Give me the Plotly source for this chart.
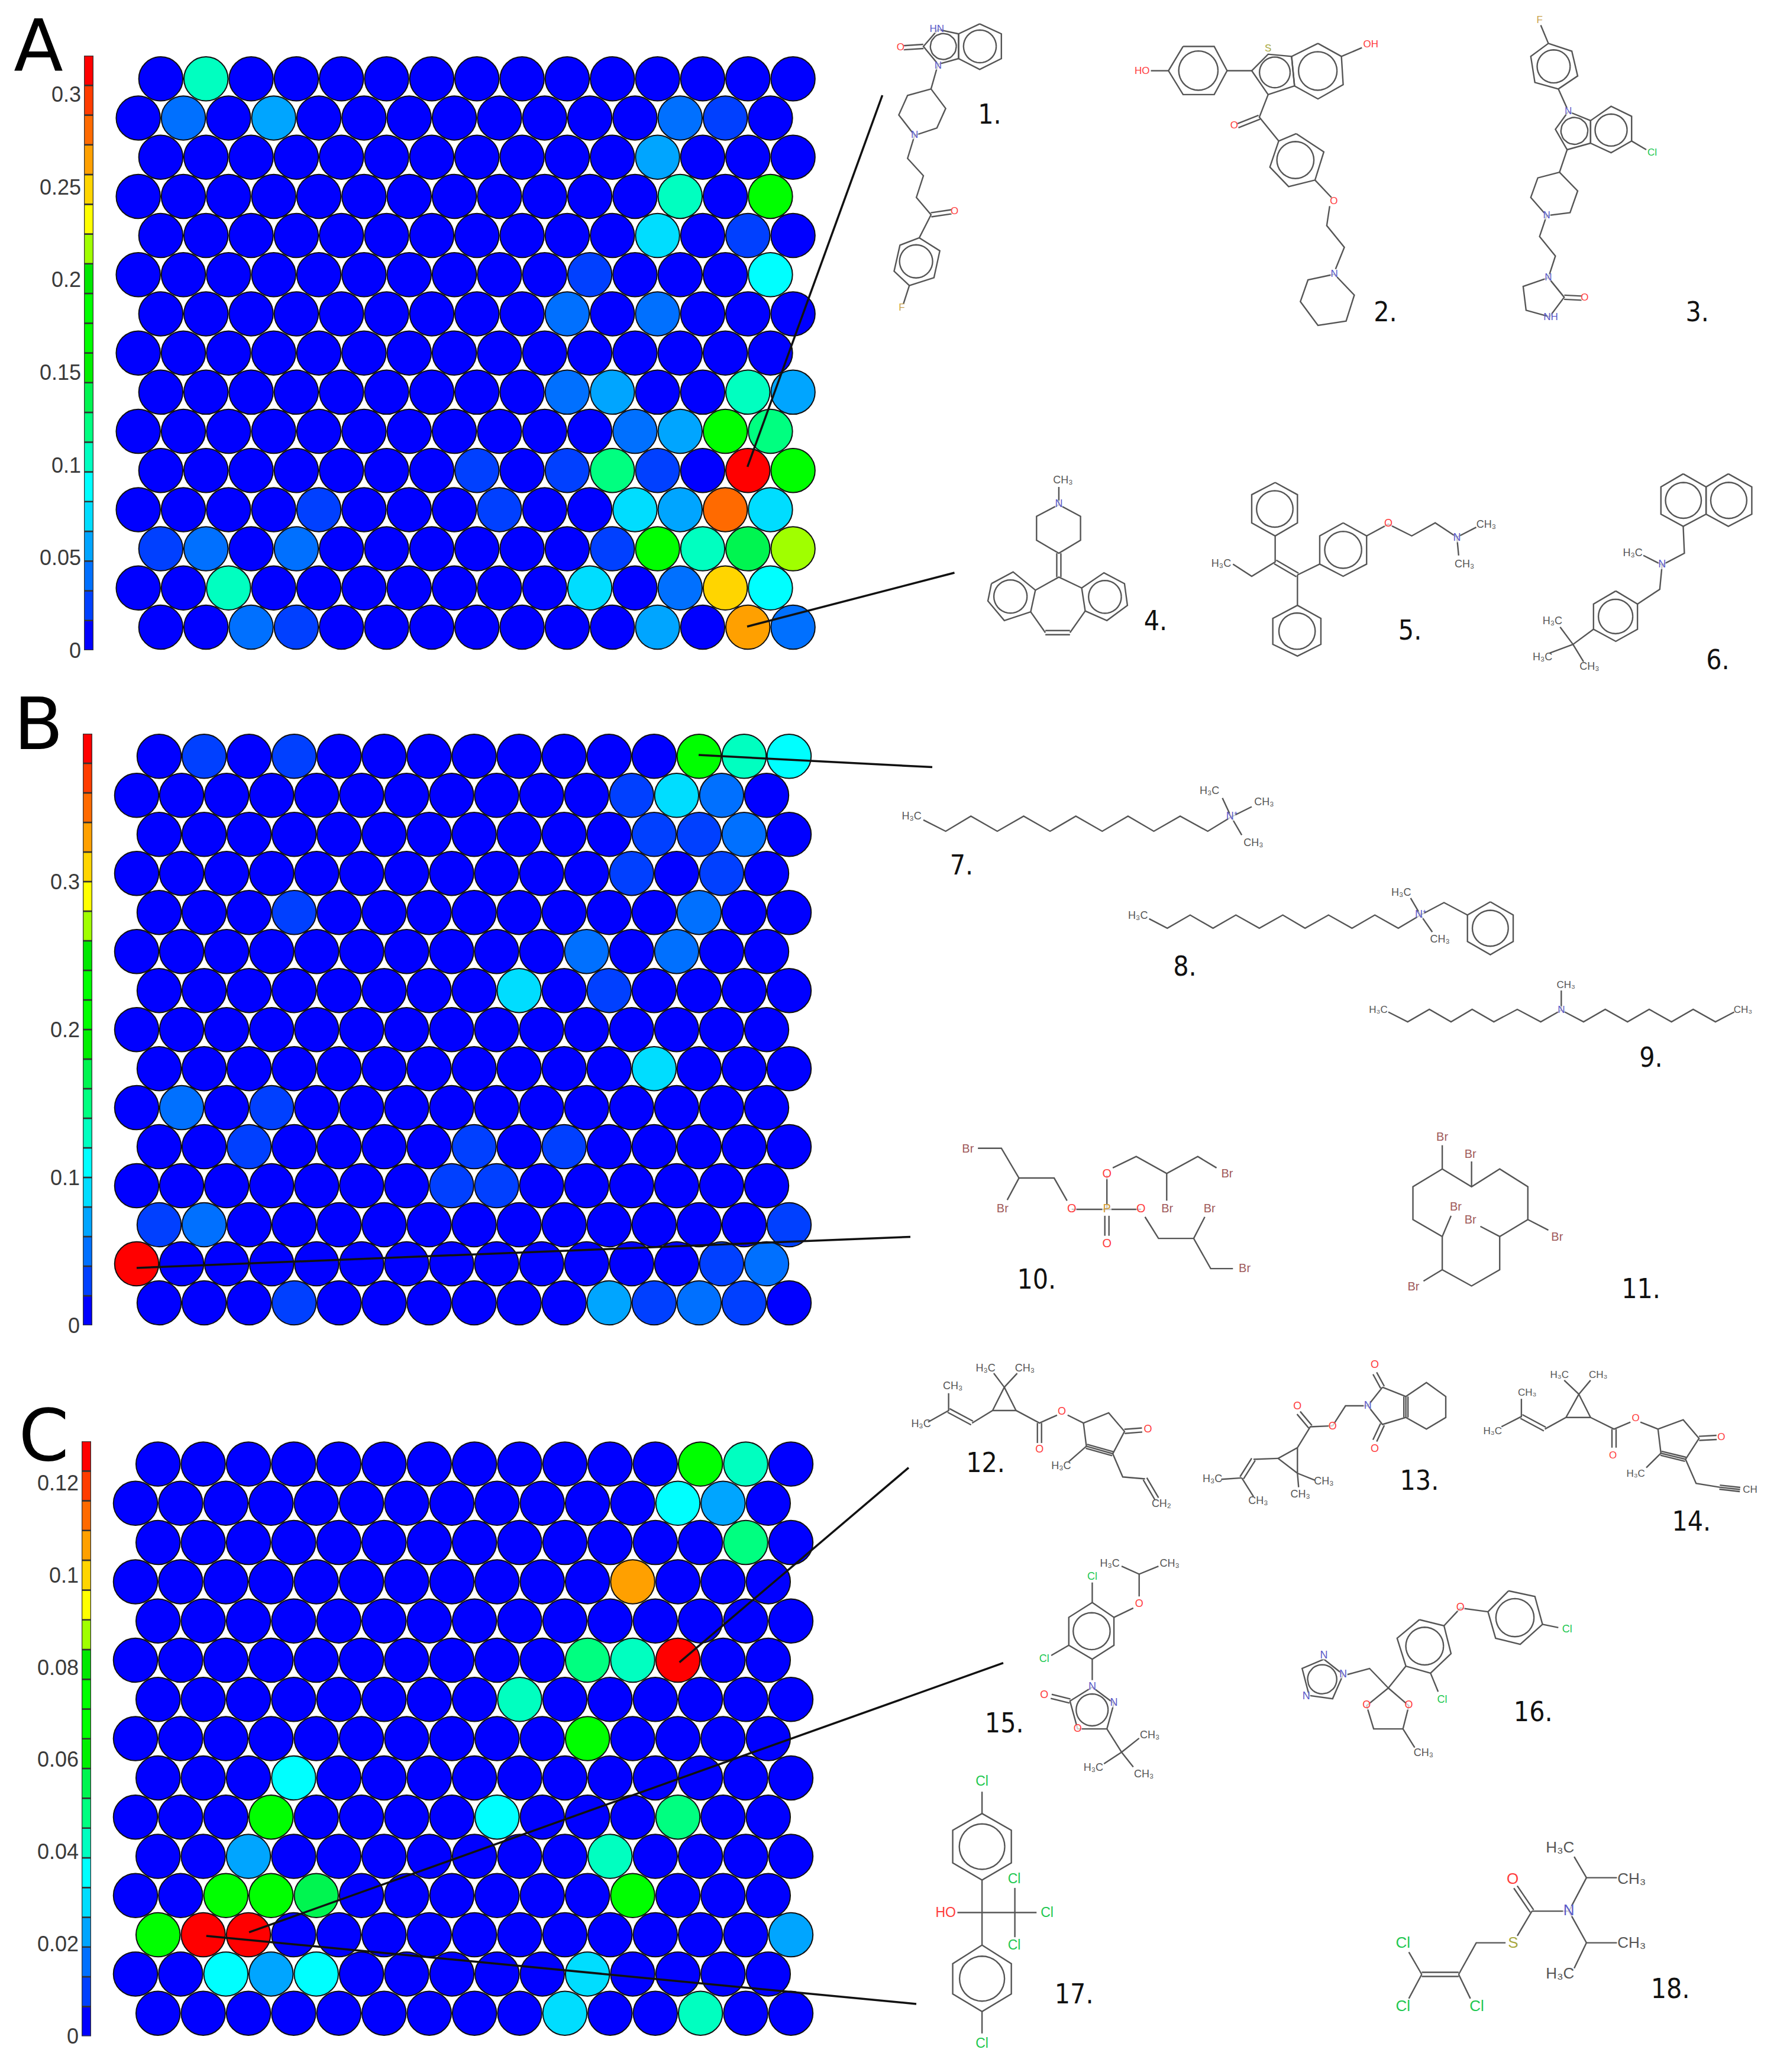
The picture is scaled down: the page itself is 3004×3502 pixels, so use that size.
import math
import plotly.graph_objects as go

W, H = 3004, 3502

# ---------- data: cell values (top row first) ----------
VALUES_A = [
 [0,.104,0,0,0,0,0,0,0,0,0,0,0,0,0],
 [0,.04,0,.056,0,0,0,0,0,0,0,0,.04,.024,0],
 [0,0,0,0,0,0,0,0,0,0,0,.056,0,0,0],
 [0,0,0,0,0,0,0,0,0,0,0,0,.104,0,.184],
 [0,0,0,0,0,0,0,0,0,0,0,.072,0,.024,0],
 [0,0,0,0,0,0,0,0,0,0,.024,0,0,0,.088],
 [0,0,0,0,0,0,0,0,0,.04,0,.04,0,0,0],
 [0,0,0,0,0,0,0,0,0,0,0,0,0,0,0],
 [0,0,0,0,0,0,0,0,0,.04,.056,0,0,.104,.056],
 [0,0,0,0,0,0,0,0,0,0,0,.04,.056,.168,.12],
 [0,0,0,0,0,0,0,.024,0,.024,.12,.024,0,.312,.168],
 [0,0,0,0,.024,0,0,0,.024,0,0,.072,.056,.28,.072],
 [.024,.04,0,.04,0,0,0,0,0,0,.024,.168,.104,.136,.216],
 [0,0,.104,0,0,0,0,0,0,0,.072,0,.04,.248,.088],
 [0,0,.04,.024,0,0,0,0,0,0,0,.056,0,.264,.04],
]
VALUES_B = [
 [0,.03,0,.03,0,0,0,0,0,0,0,0,.21,.13,.11],
 [0,0,0,0,0,0,0,0,0,0,0,.03,.09,.05,0],
 [0,0,0,0,0,0,0,0,0,0,0,.03,.03,.05,0],
 [0,0,0,0,0,0,0,0,0,0,0,.03,0,.03,0],
 [0,0,0,.03,0,0,0,0,0,0,0,0,.05,0,0],
 [0,0,0,0,0,0,0,0,0,0,.05,0,.05,0,0],
 [0,0,0,0,0,0,0,0,.09,0,.03,0,0,0,0],
 [0,0,0,0,0,0,0,0,0,0,0,0,0,0,0],
 [0,0,0,0,0,0,0,0,0,0,0,.09,0,0,0],
 [0,.05,0,.03,0,0,0,0,0,0,0,0,0,0,0],
 [0,0,.03,0,0,0,0,.03,0,.03,0,0,0,0,0],
 [0,0,0,0,0,0,0,.03,.03,0,0,0,0,0,0],
 [.03,.05,0,0,0,0,0,0,0,0,0,0,0,0,.03],
 [.39,0,0,0,0,0,0,0,0,0,0,0,0,.03,.05],
 [0,0,0,.03,0,0,0,0,0,0,.07,.03,.05,.03,0],
]
VALUES_C = [
 [0,0,0,0,0,0,0,0,0,0,0,0,.0677,.0419,0],
 [0,0,0,0,0,0,0,0,0,0,0,0,.0355,.0226,0],
 [0,0,0,0,0,0,0,0,0,0,0,0,0,.0484,0],
 [0,0,0,0,0,0,0,0,0,0,0,.1064,0,0,0],
 [0,0,0,0,0,0,0,0,0,0,0,0,0,0,0],
 [0,0,0,0,0,0,0,0,0,0,.0484,.0419,.1258,0,0],
 [0,0,0,0,0,0,0,0,.0419,0,0,0,0,0,0],
 [0,0,0,0,0,0,0,0,0,0,.0677,0,0,0,0],
 [0,0,0,.0355,0,0,0,0,0,0,0,0,0,0,0],
 [0,0,0,.0677,0,0,0,0,.0355,0,0,0,.0484,0,0],
 [0,0,.0226,0,0,0,0,0,0,0,.0419,0,0,0,0],
 [0,0,.0677,.0677,.0548,0,0,0,0,0,0,.0677,0,0,0],
 [.0677,.1258,.1258,0,0,0,0,0,0,0,0,0,0,0,.0226],
 [0,0,.0355,.0226,.0355,0,0,0,0,0,.029,0,0,0,0],
 [0,0,0,0,0,0,0,0,0,.029,0,0,.0419,0,0],
]
TICKS_A = [0, .05, .1, .15, .2, .25, .3]
TICK_LABELS_A = ["0", "0.05", "0.1", "0.15", "0.2", "0.25", "0.3"]
TICKS_B = [0, .1, .2, .3]
TICK_LABELS_B = ["0", "0.1", "0.2", "0.3"]
TICKS_C = [0, .02, .04, .06, .08, .1, .12]
TICK_LABELS_C = ["0", "0.02", "0.04", "0.06", "0.08", "0.1", "0.12"]
VMAX_A, VMAX_B, VMAX_C = 0.321, 0.40, 0.129
BAND_COLORS = ["#0000ff", "#0040ff", "#0070ff", "#00a5ff", "#00ddff", "#00ffff", "#00ffc0",
               "#00ff80", "#00f550", "#00f000", "#00ff00", "#00ff00", "#00e800", "#a0ff00",
               "#ffff00", "#ffd500", "#ffa000", "#ff6a00", "#ff3c00", "#ff0000"]
PANEL_LETTERS = ["A", "B", "C"]

# ---------- layout in page pixels ----------
PANELS = [
 dict(v=VALUES_A, vmax=VMAX_A, ticks=TICKS_A, labels=TICK_LABELS_A,
      x0=233.7, x1=1340.6, y0=133.3, y1=1060, bx0=142, bx1=158, by0=94, by1=1099),
 dict(v=VALUES_B, vmax=VMAX_B, ticks=TICKS_B, labels=TICK_LABELS_B,
      x0=231, x1=1334, y0=1278.3, y1=2202, bx0=140, bx1=156, by0=1240, by1=2240),
 dict(v=VALUES_C, vmax=VMAX_C, ticks=TICKS_C, labels=TICK_LABELS_C,
      x0=229, x1=1337, y0=2474.5, y1=3402.7, bx0=138, bx1=154, by0=2436, by1=3441.6),
]

fig = go.Figure()
layout = {}


def stepped_scale():
    n = len(BAND_COLORS)
    out = []
    for i, c in enumerate(BAND_COLORS):
        out += [[i / n, c], [(i + 1) / n, c]]
    return out


for i, p in enumerate(PANELS):
    a = 2 * i + 1
    b = 2 * i + 2
    xs, ys, vals = [], [], []
    for r, row in enumerate(p["v"]):
        for c, val in enumerate(row):
            xs.append(c - (0.5 if r % 2 else 0))
            ys.append(r)
            vals.append(val)
    fig.add_trace(go.Scatter(
        x=xs, y=ys, mode="markers", cliponaxis=False, hoverinfo="text",
        text=[f"{v:g}" for v in vals],
        marker=dict(size=74.5, color=vals, cmin=0, cmax=p["vmax"], colorscale=stepped_scale(),
                    line=dict(color="#101010", width=2)),
        xaxis=f"x{a}", yaxis=f"y{a}"))
    layout[f"xaxis{a}"] = dict(domain=[p["x0"] / W, p["x1"] / W], range=[-0.5, 14], visible=False,
                               fixedrange=True, anchor=f"y{a}", automargin=False)
    layout[f"yaxis{a}"] = dict(domain=[1 - p["y1"] / H, 1 - p["y0"] / H], range=[14, 0], visible=False,
                               fixedrange=True, anchor=f"x{a}", automargin=False)
    n = len(BAND_COLORS)
    step = p["vmax"] / n
    fig.add_trace(go.Bar(
        x=[0.5] * n, y=[step] * n, base=[step * k for k in range(n)], width=1,
        marker=dict(color=BAND_COLORS, line=dict(color="#333333", width=2.5)),
        hoverinfo="skip", xaxis=f"x{b}", yaxis=f"y{b}"))
    layout[f"xaxis{b}"] = dict(domain=[p["bx0"] / W, p["bx1"] / W], range=[0, 1], visible=False,
                               fixedrange=True, anchor=f"y{b}", automargin=False)
    layout[f"yaxis{b}"] = dict(domain=[1 - p["by1"] / H, 1 - p["by0"] / H], range=[0, p["vmax"]],
                               tickvals=p["ticks"], ticktext=p["labels"], ticks="", ticklen=0,
                               showgrid=False, zeroline=False, showline=False, fixedrange=True,
                               anchor=f"x{b}", automargin=False, ticklabelstandoff=4,
                               tickfont=dict(family="Liberation Sans", size=36, color="#3a3a3a"))

# ---------- molecule drawings: coordinates in three reference blocks ----------
BLOCKS = {"a": (1.009, 1.3635, 0), "b": (1.009, 1.568, 1250), "c": (1.009, 1.2727, 2270)}
NC, OC, FC, CLC, SC, BRC, PC = "#5a5ac8", "#ff3b3b", "#c9a24a", "#20c850", "#a8a840", "#a05a5a", "#d09a30"
GREY = "#555555"
H3C, CH3, CH2, NPLUS = "H\u2083C", "CH\u2083", "CH\u2082", "N\u207a"

MOLS = [
 dict(block="a", size=17, rings=[
   [(208,55),(245,78),(245,135),(208,160),(172,135),(172,78)],
   [(172,78),(137,68),(112,107),(137,148),(172,135)],
   [(105,548),(140,578),(130,640),(88,658),(62,625),(72,565)]],
  bonds=[[(137,148),(125,205),(150,250),(135,295),(97,312),(70,265),(85,220),(125,205)],
         [(97,312),(85,365),(112,405),(100,455),(125,495),(105,548)], [(88,658),(78,700)]],
  double=[[(112,107),(78,110)], [(125,495),(160,488)]],
  labels=[(135,68,"HN",NC),(137,152,"N",NC),(73,110,"O",OC),(97,312,"N",NC),(165,488,"O",OC),(75,710,"F",FC)]),
 dict(block="a", size=17, rings=[
   [(555,107),(608,107),(630,163),(608,218),(555,218),(530,163)],
   [(785,100),(825,130),(828,195),(785,228),(745,198),(740,130)],
   [(672,163),(700,125),(740,130),(745,198),(700,218)],
   [(748,308),(795,350),(780,415),(735,430),(703,385),(718,325)]],
  bonds=[[(530,163),(500,163)], [(630,163),(672,163)], [(825,130),(860,110)],
         [(700,218),(685,270),(718,325)], [(780,415),(808,455)],
         [(805,475),(800,520),(830,570),(815,620)],
         [(813,632),(847,680),(833,740),(785,750),(755,695),(768,645),(813,632)]],
  double=[[(685,270),(648,290)]],
  labels=[(485,165,"HO",OC),(700,113,"S",SC),(875,103,"OH",OC),(642,290,"O",OC),(812,465,"O",OC),(813,632,"N",NC)]),
 dict(block="a", size=17, rings=[
   [(1178,100),(1218,118),(1228,175),(1195,205),(1155,190),(1148,130)],
   [(1212,257),(1250,278),(1250,330),(1210,345),(1190,298)],
   [(1250,278),(1285,245),(1320,268),(1320,325),(1285,352),(1250,330)]],
  bonds=[[(1165,58),(1178,100)], [(1195,205),(1210,250)], [(1320,325),(1345,345)], [(1210,345),(1197,397)],
         [(1197,397),(1228,440),(1215,490),(1175,497),(1148,455),(1160,410),(1197,397)],
         [(1175,497),(1163,545),(1190,590),(1178,640)],
         [(1178,640),(1205,685),(1180,730),(1140,715),(1135,660),(1178,640)]],
  double=[[(1205,685),(1235,687)]],
  labels=[(1163,48,"F",FC),(1212,257,"N",NC),(1355,353,"Cl",CLC),(1175,497,"N",NC),(1178,640,"N",NC),
          (1240,687,"O",OC),(1182,732,"NH",NC)]),
 dict(block="a", size=18, rings=[
   [(228,1345),(265,1318),(303,1360),(295,1410),(250,1430),(222,1385)],
   [(382,1355),(420,1320),(455,1345),(460,1395),(425,1430),(388,1408)]],
  bonds=[[(343,1122),(343,1163),(380,1190),(380,1245),(343,1275),(305,1245),(305,1190),(343,1163)],
         [(303,1360),(343,1330),(382,1355)], [(295,1410),(320,1458)], [(362,1458),(388,1408)]],
  double=[[(343,1275),(343,1330)], [(320,1458),(362,1458)]],
  labels=[(350,1108,CH3,GREY),(343,1163,"N",NC)]),
 dict(block="a", size=18, rings=[
   [(712,1112),(750,1140),(750,1205),(712,1235),(672,1205),(672,1140)],
   [(750,1395),(790,1425),(790,1485),(750,1512),(708,1485),(708,1425)],
   [(828,1205),(868,1235),(868,1300),(828,1328),(788,1300),(788,1235)]],
  bonds=[[(712,1235),(712,1295),(672,1328),(640,1300)], [(750,1325),(788,1300)], [(750,1325),(750,1395)],
         [(868,1235),(905,1208),(945,1235),(985,1205),(1022,1238)],
         [(1022,1238),(1055,1215)], [(1022,1238),(1025,1280)]],
  double=[[(712,1295),(750,1325)]],
  labels=[(620,1300,H3C,GREY),(905,1208,"O",OC),(1022,1240,"N",NC),(1072,1210,CH3,GREY),(1035,1302,CH3,GREY)]),
 dict(block="a", size=18, rings=[
   [(1408,1092),(1447,1122),(1447,1185),(1408,1213),(1370,1185),(1370,1122)],
   [(1485,1092),(1525,1122),(1525,1185),(1485,1213),(1447,1185),(1447,1122)],
   [(1293,1362),(1330,1392),(1330,1450),(1293,1478),(1255,1450),(1255,1392)]],
  bonds=[[(1408,1213),(1410,1275),(1372,1302)], [(1372,1302),(1340,1280)], [(1372,1302),(1368,1358),(1330,1392)],
         [(1255,1450),(1220,1485)], [(1220,1485),(1198,1445)], [(1220,1485),(1180,1505)], [(1220,1485),(1238,1525)]],
  double=[],
  labels=[(1372,1302,"N",NC),(1322,1275,H3C,GREY),(1185,1432,H3C,GREY),(1168,1515,H3C,GREY),(1248,1537,CH3,GREY)]),
 dict(block="b", size=18, rings=[],
  bonds=[[(112,213),(150,243),(193,203),(238,243),(283,203),(328,243),(372,203),(417,243),(461,203),(505,243),(550,203),(597,243),(637,205)],
         [(637,205),(622,155)], [(637,205),(672,178)], [(637,205),(655,253)]],
  double=[],
  labels=[(92,205,H3C,GREY),(638,205,NPLUS,NC),(600,137,H3C,GREY),(693,167,CH3,GREY),(675,275,CH3,GREY)]),
 dict(block="b", size=18, rings=[[(1079,430),(1118,465),(1118,535),(1079,570),(1040,535),(1040,465)]],
  bonds=[[(497,475),(528,500),(567,465),(606,500),(645,465),(685,500),(725,465),(763,500),(803,465),(843,500),(882,465),(922,500),(960,465)],
         [(960,465),(943,420)], [(960,465),(980,510)], [(960,465),(1000,432),(1040,465)]],
  double=[],
  labels=[(478,468,H3C,GREY),(960,465,NPLUS,NC),(927,407,H3C,GREY),(993,530,CH3,GREY)]),
 dict(block="b", size=17, rings=[],
  bonds=[[(905,722),(938,748),(975,715),(1012,748),(1048,715),(1085,748),(1125,715),(1165,748),(1200,717),
          (1238,748),(1275,715),(1313,748),(1350,715),(1388,748),(1425,715),(1463,748),(1495,722)],
         [(1200,717),(1200,665)]],
  double=[],
  labels=[(888,717,H3C,GREY),(1200,717,"N",NC),(1208,652,CH3,GREY),(1510,717,CH3,GREY)]),
 dict(block="b", size=20, rings=[],
  bonds=[[(205,1083),(245,1083),(275,1162),(335,1162),(357,1222)], [(275,1162),(255,1220)],
         [(365,1245),(425,1245),(483,1245)], [(425,1155),(425,1245)],
         [(435,1135),(475,1105),(527,1150),(580,1105),(612,1135)], [(527,1150),(527,1222)],
         [(490,1265),(513,1322),(573,1322),(602,1402),(640,1402)], [(573,1322),(592,1265)]],
  double=[[(425,1262),(425,1315)]],
  labels=[(188,1087,"Br",BRC),(247,1245,"Br",BRC),(365,1245,"O",OC),(425,1245,"P",PC),(425,1153,"O",OC),
          (630,1153,"Br",BRC),(528,1245,"Br",BRC),(483,1245,"O",OC),(660,1403,"Br",BRC),(600,1245,"Br",BRC),(425,1337,"O",OC)]),
 dict(block="b", size=20, rings=[],
  bonds=[[(997,1138),(1047,1185),(1095,1138),(1143,1185),(1143,1272),(1095,1317),(1095,1405),(1047,1448),(997,1405),(997,1317),(947,1272),(947,1185),(997,1138)],
         [(997,1138),(997,1075)], [(1047,1185),(1047,1118)], [(1143,1272),(1178,1300)],
         [(1095,1317),(1062,1290)], [(997,1317),(1012,1262)], [(997,1405),(965,1435)]],
  double=[],
  labels=[(997,1055,"Br",BRC),(1045,1100,"Br",BRC),(1193,1320,"Br",BRC),(1045,1275,"Br",BRC),(1020,1240,"Br",BRC),(948,1452,"Br",BRC)]),
 dict(block="c", size=18, rings=[],
  bonds=[[(155,108),(155,145),(120,170)], [(195,172),(230,145),(270,145),(250,95),(230,145)],
         [(250,95),(232,65)], [(250,95),(272,65)], [(270,145),(310,172),(340,155)], [(358,155),(385,172)],
         [(385,172),(428,150),(455,190),(435,238),(390,222),(385,172)], [(390,222),(360,255)],
         [(435,238),(452,288),(490,292)]],
  double=[[(155,145),(195,172)], [(310,172),(310,215)], [(455,190),(485,187)], [(435,238),(390,222)], [(490,292),(510,335)]],
  labels=[(162,93,CH3,GREY),(108,175,H3C,GREY),(218,55,H3C,GREY),(285,55,CH3,GREY),(310,230,"O",OC),(348,148,"O",OC),
          (495,187,"O",OC),(347,265,H3C,GREY),(518,347,CH2,GREY)]),
 dict(block="c", size=18, rings=[],
  bonds=[[(895,95),(935,115),(935,160),(895,175),(870,135),(895,95)],
         [(935,115),(970,85),(1003,115),(1003,160),(970,185),(935,160)],
         [(870,135),(832,135),(810,178)], [(810,178),(772,180),(750,225),(717,248),(750,280),(750,225)],
         [(750,280),(780,295)], [(750,280),(752,310)], [(717,248),(675,250)], [(655,290),(620,293)], [(655,290),(675,330)]],
  double=[[(882,65),(895,95)], [(895,175),(882,210)], [(772,180),(752,150)], [(675,250),(655,290)], [(935,115),(935,160)]],
  labels=[(882,48,"O",OC),(882,228,"O",OC),(870,135,"N",NC),(810,180,"O",OC),(750,137,"O",OC),(795,298,CH3,GREY),
          (755,327,CH3,GREY),(605,293,H3C,GREY),(683,340,CH3,GREY)]),
 dict(block="c", size=17, rings=[],
  bonds=[[(1132,120),(1132,158),(1098,180)], [(1172,185),(1208,160),(1250,160),(1230,110),(1208,160)],
         [(1230,110),(1205,80)], [(1230,110),(1250,80)], [(1250,160),(1290,185),(1318,170)], [(1335,170),(1365,185)],
         [(1365,185),(1408,165),(1435,205),(1412,250),(1370,237),(1365,185)], [(1370,237),(1345,268)],
         [(1412,250),(1430,302),(1470,310),(1505,315)]],
  double=[[(1132,158),(1172,185)], [(1290,185),(1290,225)], [(1435,205),(1465,203)], [(1412,250),(1370,237)], [(1470,310),(1505,315)]],
  labels=[(1142,108,CH3,GREY),(1083,190,H3C,GREY),(1197,70,H3C,GREY),(1263,70,CH3,GREY),(1288,243,"O",OC),(1327,163,"O",OC),
          (1473,203,"O",OC),(1327,282,H3C,GREY),(1522,317,"CH",GREY)]),
 dict(block="c", size=18, rings=[
   [(400,558),(437,590),(437,650),(400,680),(360,650),(360,590)],
   [(400,740),(437,775),(425,830),(375,830),(362,770)]],
  bonds=[[(450,480),(480,497),(513,480)], [(480,497),(480,545)], [(470,570),(437,590)], [(400,558),(400,515)],
         [(360,650),(330,672)], [(400,680),(400,725)], [(425,830),(450,880)], [(450,880),(480,850)],
         [(450,880),(420,905)], [(450,880),(470,912)]],
  double=[[(362,770),(330,760)]],
  labels=[(430,475,H3C,GREY),(532,475,CH3,GREY),(480,562,"O",OC),(400,503,"Cl",CLC),(318,680,"Cl",CLC),(400,740,"N",NC),
          (437,775,"N",NC),(375,830,"O",OC),(318,758,"O",OC),(498,845,CH3,GREY),(402,915,H3C,GREY),(488,928,CH3,GREY)]),
 dict(block="c", size=18, rings=[
   [(795,680),(828,713),(810,765),(770,758),(758,700)],
   [(958,595),(1000,608),(1012,668),(977,710),(935,695),(920,635)],
   [(1110,533),(1155,545),(1168,605),(1130,648),(1088,635),(1075,578)]],
  bonds=[[(835,713),(873,700),(905,742)], [(905,742),(940,780),(930,830),(880,830),(868,780),(905,742)],
         [(930,830),(950,870)], [(905,742),(935,695)], [(977,710),(990,750)], [(1000,608),(1028,570),(1075,578)],
         [(1168,605),(1195,612)]],
  double=[],
  labels=[(795,672,"N",NC),(828,713,"N",NC),(765,760,"N",NC),(940,780,"O",OC),(868,780,"O",OC),(965,882,CH3,GREY),
          (997,768,"Cl",CLC),(1028,570,"O",OC),(1210,617,"Cl",CLC)]),
 dict(block="c", size=23, rings=[
   [(212,1012),(262,1048),(262,1118),(212,1155),(162,1118),(162,1048)],
   [(212,1295),(262,1335),(262,1400),(212,1438),(162,1400),(162,1335)]],
  bonds=[[(212,965),(212,1012)], [(212,1155),(212,1295)], [(212,1438),(212,1485)], [(170,1225),(305,1225)], [(268,1172),(268,1278)]],
  double=[],
  labels=[(212,945,"Cl",CLC),(212,1508,"Cl",CLC),(150,1227,"HO",OC),(323,1227,"Cl",CLC),(267,1155,"Cl",CLC),(267,1297,"Cl",CLC)]),
 dict(block="c", size=26, rings=[],
  bonds=[[(1222,1105),(1243,1150),(1295,1150)], [(1243,1150),(1213,1222)], [(1213,1222),(1243,1290),(1295,1290)],
         [(1243,1290),(1222,1345)], [(1150,1222),(1213,1222)], [(1150,1222),(1125,1275)], [(1105,1290),(1055,1290),(1025,1358)],
         [(1025,1358),(1045,1410)], [(962,1358),(940,1310)], [(962,1358),(940,1410)]],
  double=[[(1150,1222),(1122,1170)], [(1025,1358),(962,1358)]],
  labels=[(1198,1087,H3C,GREY),(1320,1155,CH3,GREY),(1320,1292,CH3,GREY),(1198,1358,H3C,GREY),(1213,1222,"N",NC),
          (1117,1155,"O",OC),(1118,1292,"S",SC),(1056,1428,"Cl",CLC),(930,1292,"Cl",CLC),(930,1428,"Cl",CLC)]),
]

COMPOUND_LABELS = [("a",225,262,"1."),("a",900,718,"2."),("a",1432,718,"3."),("a",508,1430,"4."),("a",942,1452,"5."),("a",1467,1520,"6."),
                   ("b",177,332,"7."),("b",558,600,"8."),("b",1353,842,"9."),("b",305,1430,"10."),("b",1336,1455,"11."),
                   ("c",218,257,"12."),("c",958,295,"13."),("c",1422,383,"14."),("c",250,817,"15."),("c",1152,792,"16."),("c",369,1399,"17."),("c",1386,1388,"18.")]
LEADERS = [[(1263.6,789),(1491.6,161)], [(1263,1059),(1613.5,968)], [(1181,1276),(1576,1296.6)], [(231,2143),(1539,2090.5)],
           [(1148.6,2809.6),(1536,2480.6)], [(421,3265.8),(1696,2810.6)], [(348.7,3272),(1549,3387)]]
LETTER_POS = [(65,89),(65,1235),(74,2437)]


def to_page(block, pt):
    sx, sy, y0 = BLOCKS[block]
    return 1450 + pt[0] / sx, y0 + pt[1] / sy


bx, by, lx, ly, lt, lc, ls = [], [], [], [], [], [], []


def add_line(pts):
    bx.extend([q[0] for q in pts] + [None])
    by.extend([q[1] for q in pts] + [None])


for m in MOLS:
    bl = m["block"]
    for bond in m["bonds"]:
        add_line([to_page(bl, q) for q in bond])
    for ring in m["rings"]:
        pts = [to_page(bl, q) for q in ring]
        add_line(pts + [pts[0]])
        cx = sum(q[0] for q in pts) / len(pts)
        cy = sum(q[1] for q in pts) / len(pts)
        r = 0.68 * sum(math.hypot(q[0] - cx, q[1] - cy) for q in pts) / len(pts)
        add_line([(cx + r * math.cos(t / 18 * math.pi), cy + r * math.sin(t / 18 * math.pi)) for t in range(37)])
    for d in m["double"]:
        a_, b_ = to_page(bl, d[0]), to_page(bl, d[1])
        L = math.hypot(b_[0] - a_[0], b_[1] - a_[1]) or 1
        ox, oy = -(b_[1] - a_[1]) / L * 3.5, (b_[0] - a_[0]) / L * 3.5
        add_line([(a_[0] + ox, a_[1] + oy), (b_[0] + ox, b_[1] + oy)])
        add_line([(a_[0] - ox, a_[1] - oy), (b_[0] - ox, b_[1] - oy)])
    for x_, y_, t, c in m["labels"]:
        px, py = to_page(bl, (x_, y_))
        lx.append(px); ly.append(py); lt.append(t); lc.append(c); ls.append(m["size"])

ov = dict(xaxis="x7", yaxis="y7", hoverinfo="skip", cliponaxis=False)
fig.add_trace(go.Scatter(x=bx, y=by, mode="lines", line=dict(color=GREY, width=2.4), **ov))
fig.add_trace(go.Scatter(x=lx, y=ly, mode="markers+text", text=lt, textposition="middle center",
                         marker=dict(color="white", size=[s * 0.75 for s in ls]),
                         textfont=dict(family="Liberation Sans", color=lc, size=ls), **ov))
for seg in LEADERS:
    fig.add_trace(go.Scatter(x=[seg[0][0], seg[1][0]], y=[seg[0][1], seg[1][1]], mode="lines",
                             line=dict(color="#111111", width=3.5), **ov))
pts = [to_page(b, (x_, y_)) for b, x_, y_, _ in COMPOUND_LABELS]
fig.add_trace(go.Scatter(x=[q[0] for q in pts], y=[q[1] + 5 for q in pts], mode="text",
                         text=[c[3] for c in COMPOUND_LABELS], textposition="middle center",
                         textfont=dict(family="DejaVu Sans Condensed, DejaVu Sans", size=46, color="#111111"), **ov))
fig.add_trace(go.Scatter(x=[q[0] for q in LETTER_POS], y=[q[1] for q in LETTER_POS], mode="text",
                         text=PANEL_LETTERS, textposition="middle center",
                         textfont=dict(family="DejaVu Sans", size=122, color="black"), **ov))
layout["xaxis7"] = dict(domain=[0, 1], range=[0, W], visible=False, fixedrange=True, anchor="y7", automargin=False)
layout["yaxis7"] = dict(domain=[0, 1], range=[H, 0], visible=False, fixedrange=True, anchor="x7", automargin=False)

fig.update_layout(width=W, height=H, margin=dict(l=0, r=0, t=0, b=0), showlegend=False,
                  paper_bgcolor="white", plot_bgcolor="rgba(0,0,0,0)", barmode="overlay", **layout)
fig.write_html("out.html", post_script="document.body.style.margin='0';", config={"displayModeBar": False})
